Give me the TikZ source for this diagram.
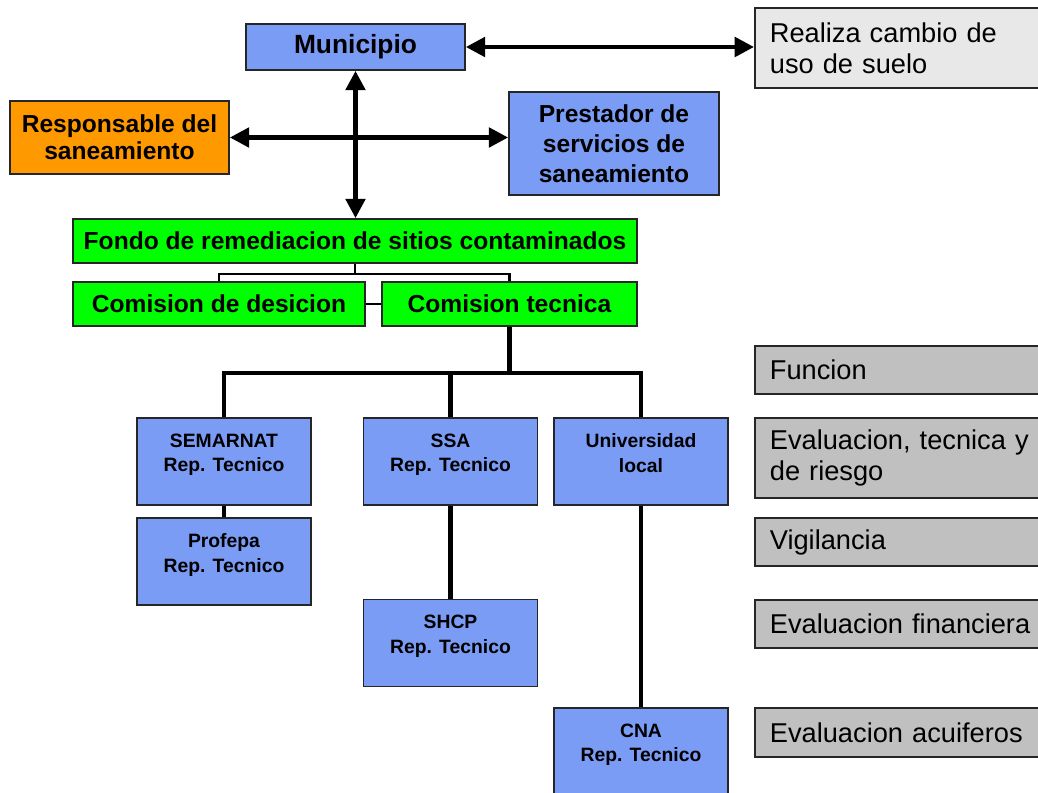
\documentclass[tikz,border=0pt]{standalone}
\usepackage{fontspec}
\setmainfont{Liberation Sans}
\usepackage{tikz}
\usetikzlibrary{arrows.meta}
\definecolor{azul}{RGB}{122,156,245}
\definecolor{naranja}{RGB}{255,153,0}
\definecolor{verde}{RGB}{0,255,0}
\definecolor{grisclaro}{RGB}{232,232,232}
\definecolor{gris}{RGB}{192,192,192}
\tikzstyle{caja}=[draw=black!85, line width=1pt, inner sep=0pt, align=center, font=\bfseries\fontsize{14}{17}\selectfont]
\tikzstyle{rep}=[caja, fill=azul, minimum width=3.48cm, minimum height=1.74cm, font=\bfseries\fontsize{11}{14}\selectfont]
\tikzstyle{funcion}=[draw=black!85, line width=1pt, fill=gris, anchor=west, text width=6cm, inner xsep=0.3cm, inner ysep=0pt, align=left, font=\fontsize{15.5}{17.6}\selectfont]
\tikzstyle{flecha}=[line width=2.5pt, {Triangle[length=11pt,width=11pt]}-{Triangle[length=11pt,width=11pt]}]
\tikzstyle{grueso}=[line width=2.4pt]
\tikzstyle{delgado}=[line width=1.5pt]

\begin{document}
\begin{tikzpicture}[x=0.02cm, y=-0.02cm]
            \clip (0,0) rectangle (1038,793);
            % cajas de arriba
            \node[caja, fill=azul, minimum width=4.38cm, minimum height=0.92cm, font=\bfseries\fontsize{15}{17}\selectfont] (muni) at (355.5,47) {Municipio};
            \node[funcion, fill=grisclaro, minimum height=1.6cm] (real) at (754,48) {Realiza cambio de\\uso de suelo};
            \node[caja, fill=naranja, minimum width=4.38cm, minimum height=1.46cm, font=\bfseries\fontsize{14}{15.5}\selectfont] (resp) at (119.5,137.5) {Responsable del\\saneamiento};
            \node[caja, fill=azul, minimum width=4.2cm, minimum height=2.06cm] (prest) at (614,143.5) {Prestador de\\servicios de\\saneamiento};

            % fondo y comisiones
            \node[caja, fill=verde, minimum width=11.28cm, minimum height=0.88cm] (fondo) at (355,241) {Fondo de remediacion de sitios contaminados};
            \node[caja, fill=verde, minimum width=5.84cm, minimum height=0.88cm] (desi) at (219,304) {Comision de desicion};
            \node[caja, fill=verde, minimum width=5.1cm, minimum height=0.88cm] (tec) at (509.5,304) {Comision tecnica};

            % representantes
            \node[rep] (sem) at (224,461.5) {SEMARNAT\\Rep. Tecnico\\[-4pt]\mbox{}};
            \node[rep] (prof) at (224,561.5) {Profepa\\Rep. Tecnico\\[-4pt]\mbox{}};
            \node[rep] (ssa) at (450.5,461.5) {SSA\\Rep. Tecnico\\[-4pt]\mbox{}};
            \node[rep] (shcp) at (450.5,643) {SHCP\\Rep. Tecnico\\[-4pt]\mbox{}};
            \node[rep] (univ) at (641,461.5) {Universidad\\local\\[-4pt]\mbox{}};
            \node[rep] (cna) at (641,751.5) {CNA\\Rep. Tecnico\\[-4pt]\mbox{}};

            % funciones
            \node[funcion, minimum height=0.96cm] (f0) at (754,370) {Funcion};
            \node[funcion, minimum height=1.6cm] (f1) at (754,458) {Evaluacion, tecnica y\\de riesgo};
            \node[funcion, minimum height=0.96cm] (f2) at (754,542) {Vigilancia};
            \node[funcion, minimum height=0.96cm] (f3) at (754,624) {Evaluacion financiera};
            \node[funcion, minimum height=0.98cm] (f4) at (754,732.5) {Evaluacion acuiferos};

            % flechas
            \draw[flecha] (muni.east) -- (muni.east -| real.west);
            \draw[flecha] (muni.south) -- (muni.south |- fondo.north);
            \draw[flecha] (resp.east) -- (resp.east -| prest.west);

            % lineas
            \draw[delgado] (fondo.south) -- ++(0,10) -| (desi.north);
            \draw[delgado] (fondo.south) ++(0,10) -| (tec.north);
            \draw[delgado] (desi) -- (tec);
            \draw[grueso] (tec.south) -- ++(0,46) coordinate (bus);
            \draw[grueso] (sem.north) |- (bus) -| (univ.north);
            \draw[grueso] (ssa.north) -- (ssa.north |- bus);
            \draw[grueso] (sem) -- (prof);
            \draw[grueso] (ssa) -- (shcp);
            \draw[grueso] (univ) -- (cna);
        \end{tikzpicture}
\end{document}
